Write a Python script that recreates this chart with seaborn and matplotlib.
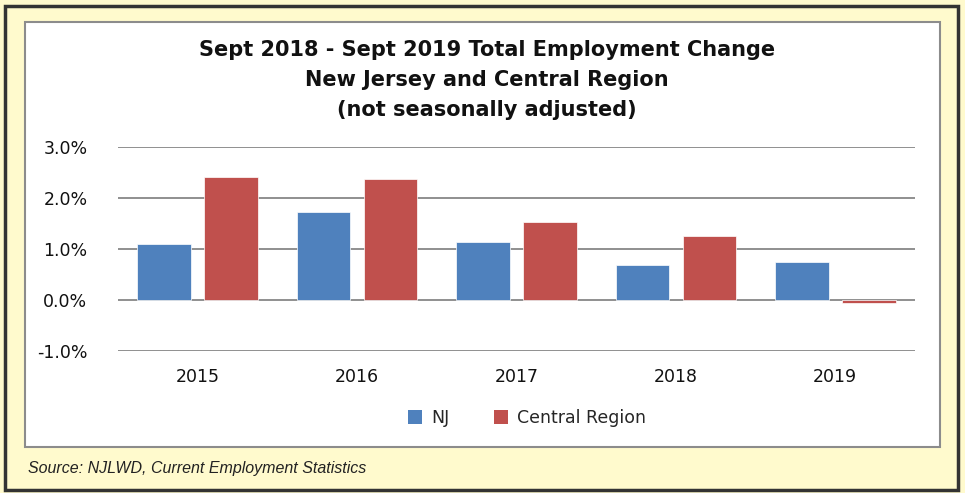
import numpy as np
import pandas as pd
import matplotlib.pyplot as plt
import matplotlib.patches as mpatches
import seaborn as sns

years = ['2015', '2016', '2017', '2018', '2019']
nj = [1.09, 1.73, 1.14, 0.69, 0.74]
central = [2.41, 2.38, 1.53, 1.25, -0.06]
series = ['NJ', 'Central Region']
colors = ['#4F81BD', '#C0504D']
yticks = [-1.0, 0.0, 1.0, 2.0, 3.0]

df = pd.DataFrame({'year': years * 2,
                   'value': nj + central,
                   'series': [series[0]] * len(years) + [series[1]] * len(years)})

sns.set_style('white')
plt.rcParams['font.family'] = ['DejaVu Sans']

fig = plt.figure(figsize=(9.65, 4.93), dpi=100)
fig.patch.set_facecolor('#FFFACD')

# outer frame and inner white chart box (behind the axes)
W, H = 965, 493
fig.patches.append(mpatches.Rectangle((5 / W, 3 / H), 953 / W, 484 / H, transform=fig.transFigure,
                                      fill=False, edgecolor='#333333', linewidth=2.5, zorder=-5))
fig.patches.append(mpatches.Rectangle((25 / W, 1 - 447 / H), 915 / W, 425 / H, transform=fig.transFigure,
                                      facecolor='white', edgecolor='#8c8c8c', linewidth=1.5, zorder=-5))

ax = fig.add_axes([118 / W, 1 - 351 / H, 797 / W, 204 / H])
ax.set_facecolor('none')
sns.barplot(data=df, x='year', y='value', hue='series', palette=colors, saturation=1,
            width=0.84, gap=0.2, ax=ax, legend=False, zorder=3)
for p in ax.patches:
    p.set_edgecolor('white')
    p.set_linewidth(0.5)

ax.set_ylim(-1.0, 3.0)
ax.set_xlim(-0.5, len(years) - 0.5)
ax.set_yticks(yticks)
ax.set_yticklabels([f'{v:.1f}%' for v in yticks], fontsize=12.5, color='#111111')
ax.tick_params(axis='x', labelsize=12.5, colors='#111111', pad=12, length=0)
ax.tick_params(axis='y', pad=22, length=0)
ax.set_xlabel('')
ax.set_ylabel('')
for v in yticks:
    ax.axhline(v, color='#8f8f8f', linewidth=1.4, zorder=1)
sns.despine(ax=ax, left=True, bottom=True)

for txt, y in [('Sept 2018 - Sept 2019 Total Employment Change', 50),
               ('New Jersey and Central Region', 80),
               ('(not seasonally adjusted)', 110)]:
    fig.text(487 / W, 1 - y / H, txt, ha='center', va='center',
             fontsize=15, fontweight='bold', color='#111111')

handles = [mpatches.Patch(facecolor=c, edgecolor='none') for c in colors]
fig.legend(handles, series, loc='center', bbox_to_anchor=(527 / W, 1 - 418 / H), ncol=2, frameon=False,
           fontsize=12.5, handlelength=0.8, handleheight=0.8, handletextpad=0.5, columnspacing=2.6)

fig.text(28 / W, 1 - 468 / H, 'Source: NJLWD, Current Employment Statistics', ha='left', va='center',
         fontsize=11.5, fontstyle='italic', family=['Liberation Sans', 'DejaVu Sans'], color='#222222')

fig.savefig('out.png', dpi=100, facecolor=fig.get_facecolor())
